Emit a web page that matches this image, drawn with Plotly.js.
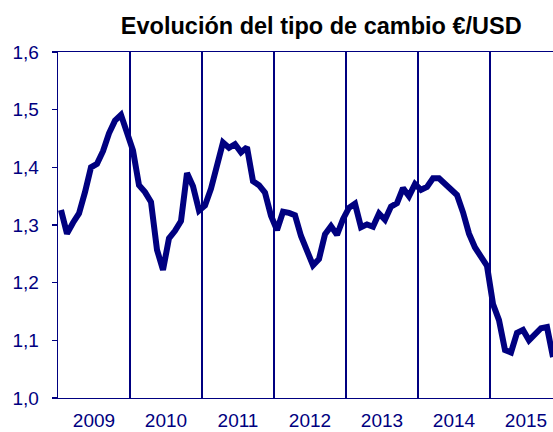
<!DOCTYPE html>
<html>
<head>
<meta charset="utf-8">
<script src="https://cdn.plot.ly/plotly-3.0.1.min.js"></script>
<style>html,body{margin:0;padding:0;background:#fff;}#chart{width:553px;height:432px;}</style>
</head>
<body>
<div id="chart"></div>
<script>
// Monthly €/USD exchange rate, Jan 2009 – Nov 2015
const years = [2009, 2010, 2011, 2012, 2013, 2014, 2015];
const rates2009 = [1.326, 1.285, 1.304, 1.320, 1.357, 1.400, 1.406, 1.428, 1.459, 1.481, 1.491, 1.457];
const rates2010 = [1.429, 1.369, 1.357, 1.340, 1.257, 1.222, 1.277, 1.290, 1.307, 1.390, 1.367, 1.325];
const rates2011 = [1.334, 1.363, 1.400, 1.443, 1.434, 1.440, 1.426, 1.435, 1.376, 1.369, 1.356, 1.316];
const rates2012 = [1.291, 1.323, 1.321, 1.317, 1.281, 1.256, 1.230, 1.241, 1.284, 1.298, 1.283, 1.310];
const rates2013 = [1.330, 1.337, 1.296, 1.301, 1.297, 1.320, 1.309, 1.332, 1.338, 1.364, 1.350, 1.371];
const rates2014 = [1.361, 1.366, 1.381, 1.381, 1.372, 1.360, 1.352, 1.322, 1.285, 1.261, 1.246, 1.229];
const rates2015 = [1.163, 1.135, 1.083, 1.079, 1.113, 1.118, 1.100, 1.110, 1.121, 1.123, 1.071];
const yTicks = [1.0, 1.1, 1.2, 1.3, 1.4, 1.5, 1.6];

const series = [rates2009, rates2010, rates2011, rates2012, rates2013, rates2014, rates2015];
const xs = [], ys = [];
series.forEach((arr, yi) => arr.forEach((v, m) => { xs.push(yi * 12 + m); ys.push(v); }));
const yearMid = years.map((y, i) => i * 12 + 5.5);
const yearBound = years.map((y, i) => i * 12 - 0.5);

const navy = '#000080';
const trace = {
  x: xs, y: ys, type: 'scatter', mode: 'lines',
  line: {color: navy, width: 6, shape: 'linear'},
  hoverinfo: 'skip'
};

const layout = {
  width: 553, height: 432,
  margin: {l: 58, r: 0, t: 52, b: 34, pad: 0},
  paper_bgcolor: '#fff', plot_bgcolor: '#fff',
  separators: ',.',
  showlegend: false,
  font: {family: 'Liberation Sans, Arial, sans-serif', color: navy},
  title: {
    text: '<b>Evolución del tipo de cambio €/USD</b>',
    font: {family: 'Liberation Sans, Arial, sans-serif', size: 23.5, color: '#000'},
    x: 0.581, xanchor: 'center', xref: 'container',
    y: 0.94, yanchor: 'middle', yref: 'container'
  },
  xaxis: {
    range: [-0.5, 82],
    tickmode: 'array', tickvals: yearMid, ticktext: years.map(String),
    ticks: '', showgrid: false, zeroline: false,
    showline: true, linecolor: navy, linewidth: 1.3, mirror: true,
    tickfont: {size: 19, color: navy},
    ticklabelstandoff: 5,
    minor: {tickmode: 'array', tickvals: yearBound, showgrid: true, gridcolor: navy, gridwidth: 1.3, ticks: ''}
  },
  yaxis: {
    range: [1.0, 1.6],
    tickmode: 'array', tickvals: yTicks, tickformat: '.1f',
    ticks: 'outside', ticklen: 5, tickwidth: 1.3, tickcolor: navy,
    showgrid: false, zeroline: false,
    showline: true, linecolor: navy, linewidth: 1.3,
    tickfont: {size: 19, color: navy},
    ticklabelstandoff: 9
  }
};

Plotly.newPlot('chart', [trace], layout, {staticPlot: true, displayModeBar: false});
</script>
</body>
</html>
